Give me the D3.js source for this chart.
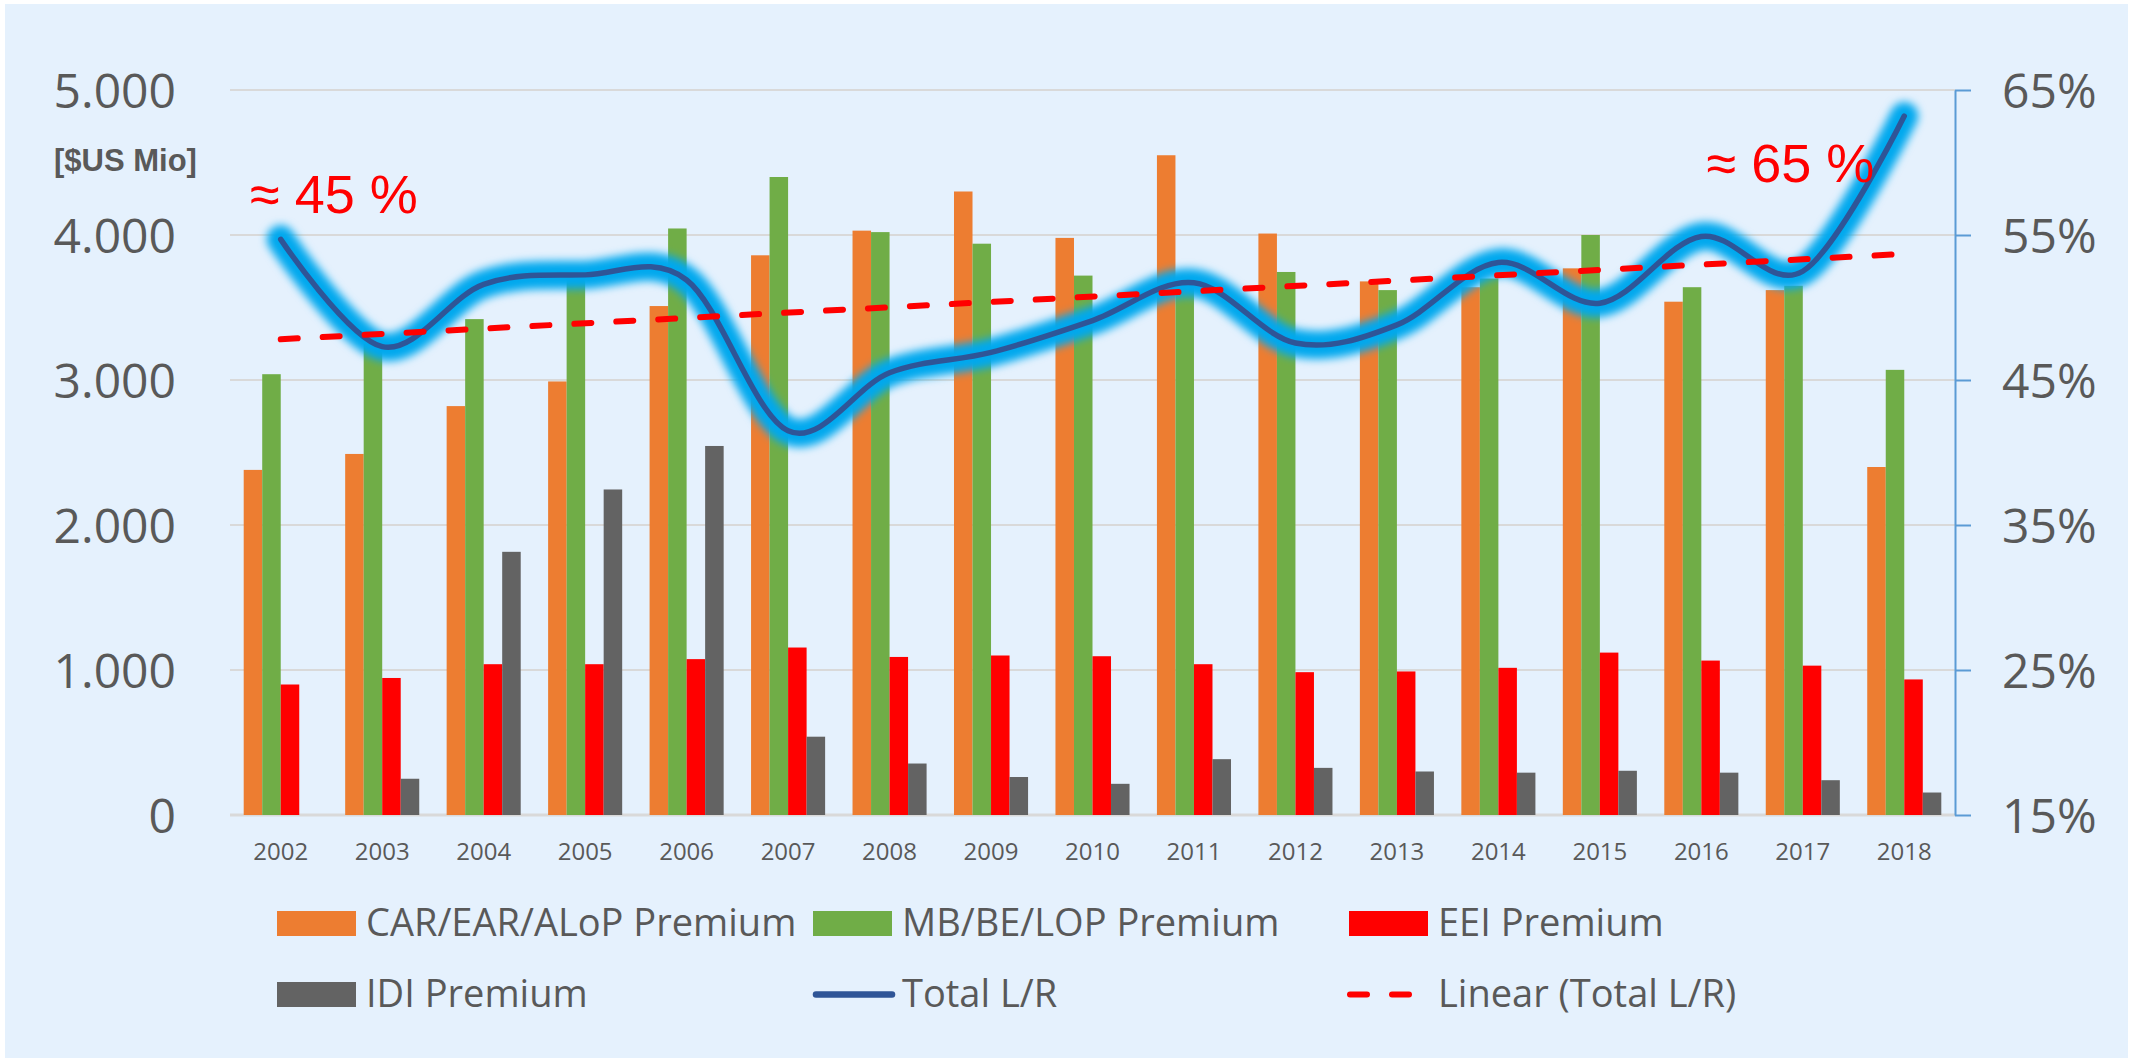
<!DOCTYPE html>
<html>
<head>
<meta charset="utf-8">
<script src="https://cdn.jsdelivr.net/npm/d3@7"></script>
<style>
  body { margin: 0; background: #fff; }
  svg { display: block; }
</style>
</head>
<body>
<div id="chart"></div>
<script>
// DATA
const years = ["2002", "2003", "2004", "2005", "2006", "2007", "2008", "2009", "2010",
  "2011", "2012", "2013", "2014", "2015", "2016", "2017", "2018"];
const carEarPremium = [2380, 2490, 2820, 2990, 3510, 3860, 4030, 4300, 3980,
  4550, 4010, 3680, 3640, 3770, 3540, 3620, 2400];
const mbBePremium = [3040, 3250, 3420, 3720, 4045, 4400, 4020, 3940, 3720,
  3650, 3745, 3620, 3700, 4000, 3640, 3650, 3070];
const eeiPremium = [900, 945, 1040, 1040, 1075, 1155, 1090, 1100, 1095,
  1040, 985, 990, 1015, 1120, 1065, 1030, 935];
const idiPremium = [0, 250, 1815, 2245, 2545, 540, 355, 262, 215,
  385, 325, 300, 292, 305, 292, 240, 155];
const totalLR = [54.7, 47.3, 51.6, 52.25, 51.9, 41.5, 45.5, 46.9, 49.1,
  51.7, 47.55, 48.8, 53.1, 50.3, 54.9, 52.5, 63.2];
const leftTicks = [0, 1000, 2000, 3000, 4000, 5000];
const rightTicks = [15, 25, 35, 45, 55, 65];

const seriesNames = ["CAR/EAR/ALoP Premium", "MB/BE/LOP Premium", "EEI Premium", "IDI Premium"];
const seriesColors = ["#ED7D31", "#70AD47", "#FF0000", "#636363"];
const seriesValues = [carEarPremium, mbBePremium, eeiPremium, idiPremium];

const width = 2140, height = 1062;
const margin = { top: 90, right: 185, bottom: 247, left: 230 };
const textColor = "#595959";
const font = "'Open Sans', sans-serif";

const svg = d3.select("#chart").append("svg")
  .attr("width", width)
  .attr("height", height);

// background
svg.append("rect").attr("width", width).attr("height", height).attr("fill", "#fff");
svg.append("rect")
  .attr("x", 5).attr("y", 4)
  .attr("width", width - 17).attr("height", height - 8)
  .attr("fill", "#E5F1FD");

// SCALES
const x = d3.scaleBand()
  .domain(years)
  .range([margin.left, width - margin.right]);
const xSub = d3.scaleBand()
  .domain(seriesNames)
  .range([0, x.bandwidth()])
  .paddingInner(0)
  .paddingOuter(0.74);
const yL = d3.scaleLinear().domain([0, 5000]).range([height - margin.bottom, margin.top]);
const yR = d3.scaleLinear().domain([15, 65]).range([height - margin.bottom, margin.top]);

const de = d3.formatLocale({ decimal: ",", thousands: ".", grouping: [3], currency: ["", ""] });

// gridlines
svg.append("g")
  .selectAll("line")
  .data(leftTicks)
  .join("line")
  .attr("x1", margin.left)
  .attr("x2", width - margin.right)
  .attr("y1", (d) => yL(d))
  .attr("y2", (d) => yL(d))
  .attr("stroke", "#D9D9D9")
  .attr("stroke-width", (d) => (d === 0 ? 3 : 2));

// AXES
const yAxisLeft = d3.axisLeft(yL).tickValues(leftTicks).tickFormat(de.format(",")).tickSize(0).tickPadding(54);
svg.append("g")
  .attr("class", "axis y-left")
  .attr("transform", `translate(${margin.left},0)`)
  .call(yAxisLeft)
  .call((g) => g.select(".domain").remove())
  .selectAll("text")
  .attr("dy", "0.36em")
  .attr("fill", textColor)
  .style("font-family", font)
  .style("font-size", "48px");

const yAxisRight = d3.axisRight(yR).tickValues(rightTicks).tickFormat((d) => d + "%").tickSize(16).tickSizeOuter(0).tickPadding(31);
const gR = svg.append("g")
  .attr("class", "axis y-right")
  .attr("transform", `translate(${width - margin.right},0)`)
  .call(yAxisRight);
gR.select(".domain").attr("stroke", "#5B9BD5").attr("stroke-width", 2);
gR.selectAll(".tick line").attr("stroke", "#5B9BD5").attr("stroke-width", 2);
gR.selectAll("text")
  .attr("dy", "0.36em")
  .attr("fill", textColor)
  .style("font-family", font)
  .style("font-size", "48px");

// x labels
svg.append("g")
  .selectAll("text")
  .data(years)
  .join("text")
  .attr("x", (d) => x(d) + x.bandwidth() / 2)
  .attr("y", 860)
  .attr("text-anchor", "middle")
  .attr("fill", textColor)
  .style("font-family", font)
  .style("font-size", "24px")
  .text((d) => d);

// BARS
seriesNames.forEach((name, si) => {
  svg.append("g")
    .selectAll("rect")
    .data(years.map((yr, i) => ({ yr, v: seriesValues[si][i] })).filter((d) => d.v > 0))
    .join("rect")
    .attr("x", (d) => x(d.yr) + xSub(name))
    .attr("width", xSub.bandwidth())
    .attr("y", (d) => yL(d.v))
    .attr("height", (d) => yL(0) - yL(d.v))
    .attr("fill", seriesColors[si]);
});

// LINE with glow
const defs = svg.append("defs");
defs.append("filter")
  .attr("id", "glow")
  .attr("x", "-10%").attr("y", "-30%")
  .attr("width", "120%").attr("height", "160%")
  .append("feGaussianBlur")
  .attr("stdDeviation", 4.5);

const lineData = years.map((yr, i) => ({ yr, v: totalLR[i] }));
const line = d3.line()
  .x((d) => x(d.yr) + x.bandwidth() / 2)
  .y((d) => yR(d.v))
  .curve(d3.curveCatmullRom.alpha(0));

svg.append("path")
  .datum(lineData)
  .attr("d", line)
  .attr("fill", "none")
  .attr("stroke", "#00A8EE")
  .attr("stroke-width", 28)
  .attr("stroke-linecap", "round")
  .attr("stroke-linejoin", "round")
  .attr("filter", "url(#glow)");

svg.append("path")
  .datum(lineData)
  .attr("d", line)
  .attr("fill", "none")
  .attr("stroke", "#2F5597")
  .attr("stroke-width", 5.5)
  .attr("stroke-linecap", "round");

// linear trend of Total L/R (least squares)
const n = totalLR.length;
const meanI = (n - 1) / 2;
const meanV = d3.mean(totalLR);
const slope = d3.sum(totalLR, (v, i) => (i - meanI) * (v - meanV)) / d3.sum(totalLR, (v, i) => (i - meanI) ** 2);
const trend = [0, n - 1].map((i) => ({ yr: years[i], v: meanV + slope * (i - meanI) }));

svg.append("path")
  .datum(trend)
  .attr("d", d3.line().x((d) => x(d.yr) + x.bandwidth() / 2).y((d) => yR(d.v)))
  .attr("fill", "none")
  .attr("stroke", "#FF0000")
  .attr("stroke-width", 6)
  .attr("stroke-linecap", "round")
  .style("stroke-dasharray", "17, 25");

// unit label + annotations
svg.append("text")
  .attr("x", 54)
  .attr("y", 171)
  .attr("fill", textColor)
  .style("font-family", "'Liberation Sans', Arial, sans-serif")
  .style("font-weight", "bold")
  .style("font-size", "31px")
  .text("[$US Mio]");

svg.append("text")
  .attr("x", x(years[0]) + 20)
  .attr("y", 213)
  .attr("fill", "#FF0000")
  .style("font-family", "'Liberation Sans', Arial, sans-serif")
  .style("font-size", "54px")
  .text("≈ 45 %");

svg.append("text")
  .attr("x", x("2016") + 56)
  .attr("y", 182)
  .attr("fill", "#FF0000")
  .style("font-family", "'Liberation Sans', Arial, sans-serif")
  .style("font-size", "54px")
  .text("≈ 65 %");

// LEGEND
const legendItems = [
  { name: "CAR/EAR/ALoP Premium", type: "rect", color: seriesColors[0] },
  { name: "MB/BE/LOP Premium", type: "rect", color: seriesColors[1] },
  { name: "EEI Premium", type: "rect", color: seriesColors[2] },
  { name: "IDI Premium", type: "rect", color: seriesColors[3] },
  { name: "Total L/R", type: "line", color: "#2F5597" },
  { name: "Linear (Total L/R)", type: "dash", color: "#FF0000" },
];
const legend = svg.append("g").attr("class", "legend");
legendItems.forEach((d, i) => {
  const col = i % 3, row = Math.floor(i / 3);
  const g = legend.append("g").attr("transform", `translate(${277 + col * 536},${923.5 + row * 71})`);
  if (d.type === "rect") {
    g.append("rect").attr("x", 0).attr("y", -12.5).attr("width", 79).attr("height", 25).attr("fill", d.color);
  } else if (d.type === "line") {
    g.append("line").attr("x1", 3).attr("x2", 79).attr("y1", 0).attr("y2", 0)
      .attr("stroke", d.color).attr("stroke-width", 6.5).attr("stroke-linecap", "round");
  } else {
    g.append("line").attr("x1", 1).attr("x2", 61).attr("y1", 0).attr("y2", 0)
      .attr("stroke", d.color).attr("stroke-width", 6).attr("stroke-linecap", "round")
      .style("stroke-dasharray", "17, 25");
  }
  g.append("text")
    .attr("x", 89)
    .attr("y", 12.5)
    .attr("fill", textColor)
    .style("font-family", font)
    .style("font-size", "38px")
    .text(d.name);
});
</script>
</body>
</html>
